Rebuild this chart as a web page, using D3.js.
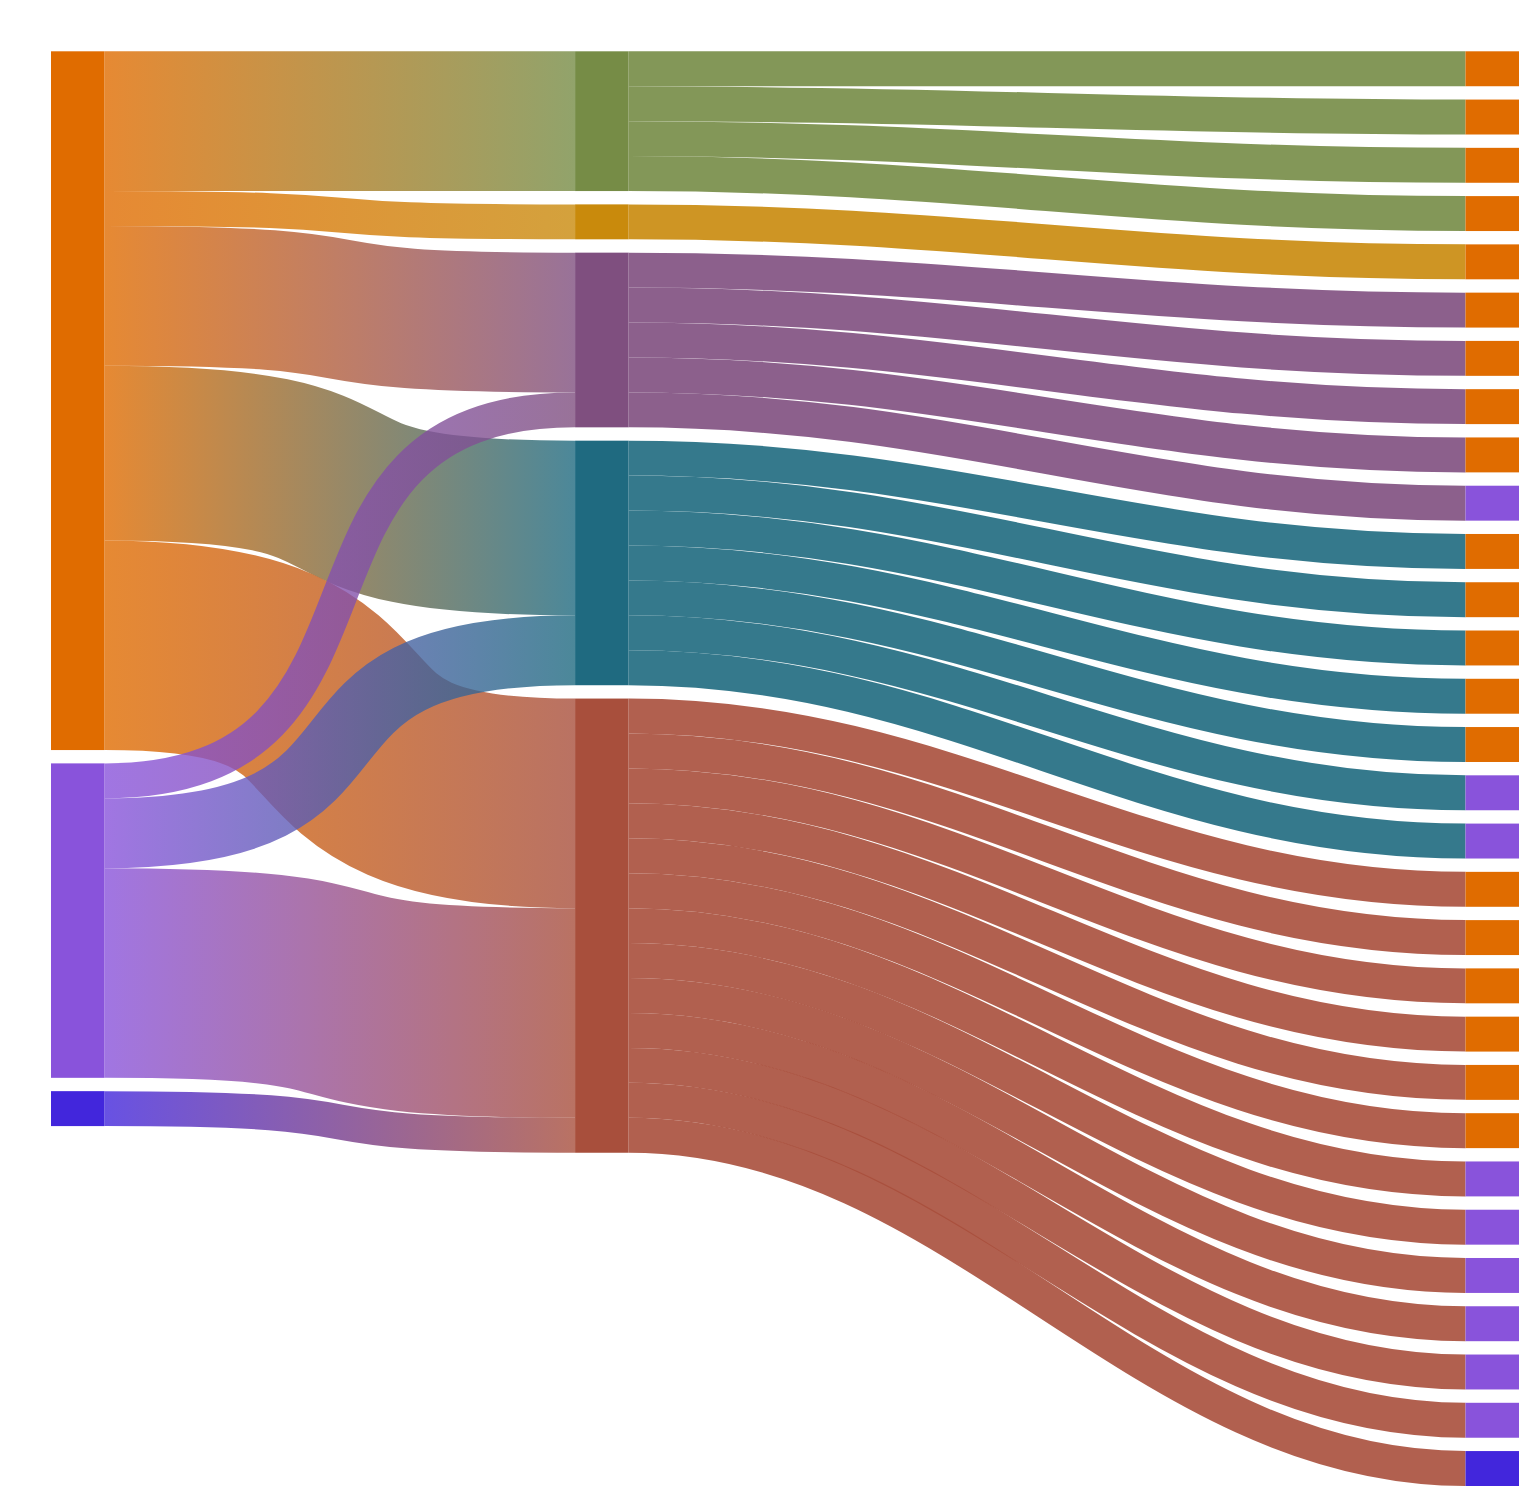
<!DOCTYPE html>
<html><head><meta charset="utf-8">
<script src="https://cdn.jsdelivr.net/npm/d3@7"></script>
<style>html,body{margin:0;padding:0;background:#fff;} svg{display:block;}</style>
</head><body>
<svg id="chart" width="1519" height="1487"></svg>
<script>
// ---- data ----
const stageA = ["A1", "A2", "A3"];
const stageB = ["B1", "B2", "B3", "B4", "B5"];
const stageC = ["C1","C2","C3","C4","C5","C6","C7","C8","C9","C10",
                "C11","C12","C13","C14","C15","C16","C17","C18","C19","C20",
                "C21","C22","C23","C24","C25","C26","C27","C28","C29","C30"];
const colorsA = ["#e06c00", "#8953db", "#4226dc"];
const colorsB = ["#768c46", "#c98a0c", "#7f4f7f", "#1f6a80", "#a84f3c"];

const abSource = ["A1","A1","A1","A1","A1","A2","A2","A2","A3"];
const abTarget = ["B1","B2","B3","B4","B5","B3","B4","B5","B5"];
const abValue  = [4, 1, 4, 5, 6, 1, 2, 6, 1];

const bcSource = ["B1","B1","B1","B1","B2",
                  "B3","B3","B3","B3","B3",
                  "B4","B4","B4","B4","B4","B4","B4",
                  "B5","B5","B5","B5","B5","B5","B5","B5","B5","B5","B5","B5","B5"];
const bcValue  = [1,1,1,1,1, 1,1,1,1,1, 1,1,1,1,1,1,1, 1,1,1,1,1,1,1,1,1,1,1,1,1];
const cGroup   = ["A1","A1","A1","A1","A1","A1","A1","A1","A1","A2",
                  "A1","A1","A1","A1","A1","A2","A2",
                  "A1","A1","A1","A1","A1","A1","A2","A2","A2","A2","A2","A2","A3"];

// ---- layout settings ----
const W = 1519, H = 1487;
const extTop = 51.3, extBottom = 1486;
const extLeft = 51, extRight = 1519;
const nodeWidth = 53.5, nodePad = 13.33;
const columnPos = [0, 0.3705, 1];
const linkCurve = 0.5;

const svg = d3.select("#chart");

// nodes
const nodes = [];
const byName = {};
[stageA, stageB, stageC].forEach((col, depth) => {
  col.forEach((name, i) => {
    let color;
    if (depth === 0) color = colorsA[i];
    else if (depth === 1) color = colorsB[i];
    else color = colorsA[stageA.indexOf(cGroup[i])];
    const n = {name, depth, index: i, color, inLinks: [], outLinks: []};
    nodes.push(n); byName[name] = n;
  });
});

const links = [];
abSource.forEach((s, i) => links.push({source: byName[s], target: byName[abTarget[i]], value: abValue[i], stage: 0}));
bcSource.forEach((s, i) => links.push({source: byName[s], target: byName[stageC[i]], value: bcValue[i], stage: 1}));
links.forEach(l => { l.source.outLinks.push(l); l.target.inLinks.push(l); });
nodes.forEach(n => {
  n.value = Math.max(d3.sum(n.inLinks, l => l.value), d3.sum(n.outLinks, l => l.value));
});

const columns = d3.groups(nodes, n => n.depth).map(d => d[1]);
const ky = d3.min(columns, col => (extBottom - extTop - (col.length - 1) * nodePad) / d3.sum(col, n => n.value));
const yScale = d3.scaleLinear().domain([0, 1]).range([0, ky]);
const xScale = d3.scaleLinear().domain([0, 1]).range([extLeft, extRight - nodeWidth]);

columns.forEach(col => {
  let y = extTop;
  col.forEach(n => {
    n.x0 = xScale(columnPos[n.depth]);
    n.x1 = n.x0 + nodeWidth;
    n.y0 = y;
    n.y1 = y + yScale(n.value);
    y = n.y1 + nodePad;
  });
});

nodes.forEach(n => {
  n.outLinks.sort((a, b) => a.target.y0 - b.target.y0);
  n.inLinks.sort((a, b) => a.source.y0 - b.source.y0);
  let y = n.y0;
  n.outLinks.forEach(l => { l.w = yScale(l.value); l.ys = y + l.w / 2; y += l.w; });
  y = n.y0;
  n.inLinks.forEach(l => { const w = yScale(l.value); l.yt = y + w / 2; y += w; });
});

// control-point offset: a fraction of the mean gap between columns
const colX0 = columns.map(col => col[0].x0);
const meanGap = (colX0[colX0.length - 1] - colX0[0] - (colX0.length - 1) * nodeWidth) / (colX0.length - 1);
const ctrl = linkCurve * meanGap;

function linkPath(l) {
  const x0 = l.source.x1, x1 = l.target.x0;
  const p = d3.path();
  p.moveTo(x0, l.ys);
  p.bezierCurveTo(x0 + ctrl, l.ys, x1 - ctrl, l.yt, x1, l.yt);
  return p.toString();
}

// gradients
const defs = svg.append("defs");
links.forEach((l, i) => {
  if (l.stage !== 0) return;
  const g = defs.append("linearGradient")
    .attr("id", "grad" + i)
    .attr("gradientUnits", "userSpaceOnUse")
    .attr("x1", l.source.x1).attr("x2", l.target.x0)
    .attr("y1", 0).attr("y2", 0);
  g.append("stop").attr("offset", "0%").attr("stop-color", l.source.color);
  g.append("stop").attr("offset", "100%").attr("stop-color", l.target.color);
});

svg.append("g").attr("fill", "none").selectAll("path")
  .data(links)
  .join("path")
  .attr("d", linkPath)
  .attr("stroke", (l, i) => l.stage === 0 ? `url(#grad${i})` : l.source.color)
  .attr("stroke-width", l => l.w)
  .attr("stroke-opacity", l => l.stage === 0 ? 0.8 : 0.9);

svg.append("g").selectAll("rect")
  .data(nodes)
  .join("rect")
  .attr("x", n => n.x0)
  .attr("y", n => n.y0)
  .attr("width", n => n.x1 - n.x0)
  .attr("height", n => n.y1 - n.y0)
  .attr("fill", n => n.color);
</script>
</body></html>
